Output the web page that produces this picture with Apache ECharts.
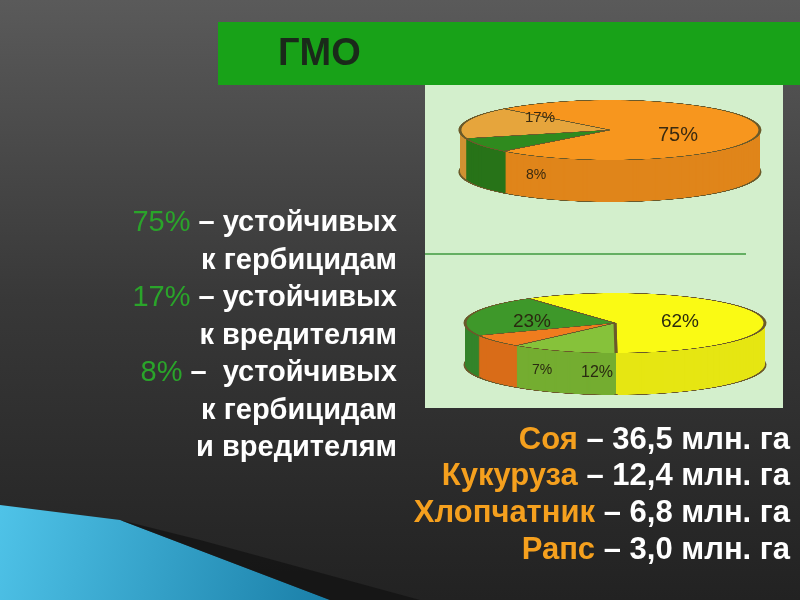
<!DOCTYPE html>
<html><head><meta charset="utf-8">
<script src="https://cdn.jsdelivr.net/npm/echarts@6/dist/echarts.min.js"></script>
<style>
html,body{margin:0;padding:0;width:800px;height:600px;overflow:hidden;background:#333}
#main,#over{position:absolute;left:0;top:0;width:800px;height:600px}
#over{z-index:5;pointer-events:none}
.pie{position:absolute;width:320px;height:560px;transform:scaleY(0.2);transform-origin:0 0;z-index:2}
</style></head><body>
<div id="main"></div>
<div id="p1" class="pie" style="left:450px;top:98px"></div>
<div id="p2" class="pie" style="left:455px;top:291px"></div>
<div id="over"></div>
<script>
var topCategories = ['устойчивые к гербицидам', 'устойчивые к гербицидам и вредителям', 'устойчивые к вредителям'];
var topValues = [75, 8, 17];
var topColors = ['#f7961e', '#2f8a1e', '#e6a53c'];
var topSide = ['#e0851a', '#277318', '#cf9233'];
var bottomCategories = ['Соя', 'Хлопчатник', 'Рапс', 'Кукуруза'];
var bottomValues = [62, 12, 7, 23];
var bottomColors = ['#fafa14', '#86c23a', '#f07c1e', '#3e982a'];
var bottomSide = ['#e6e612', '#74ad30', '#d96c18', '#33842a'];
var crops = ['Соя', 'Кукуруза', 'Хлопчатник', 'Рапс'];
var cropArea = ['36,5', '12,4', '6,8', '3,0'];
var leftLines = [['75%', ' – устойчивых'], ['', 'к гербицидам'], ['17%', ' – устойчивых'], ['', 'к вредителям'], ['8%', ' –  устойчивых'], ['', 'к гербицидам'], ['', 'и вредителям']];

function pieOption(cats, vals, cols, side, start) {
  var series = [];
  var depth = 210;
  for (var d = depth; d >= 0; d -= 5) {
    var isTop = d === 0;
    series.push({
      type: 'pie', radius: 150, center: [160, 160 + d], startAngle: start,
      silent: true, animation: false, label: {show: false}, labelLine: {show: false},
      itemStyle: {borderColor: isTop || d === depth ? '#6b5a2a' : 'transparent', borderWidth: isTop || d === depth ? 3 : 0},
      data: cats.map(function (c, i) { return {name: c, value: vals[i], itemStyle: {color: isTop ? cols[i] : side[i]}}; })
    });
  }
  return {animation: false, series: series};
}
echarts.init(document.getElementById('p1')).setOption(pieOption(topCategories, topValues, topColors, topSide, 135));
echarts.init(document.getElementById('p2')).setOption(pieOption(bottomCategories, bottomValues, bottomColors, bottomSide, 125));

var FONT = '"Liberation Sans Narrow", "Liberation Sans", Arial';
var g = [];
g.push({type: 'rect', shape: {x: 0, y: 0, width: 800, height: 600}, style: {fill: new echarts.graphic.LinearGradient(0, 0, 0, 1, [{offset: 0, color: '#5a5a5a'}, {offset: 0.5, color: '#383838'}, {offset: 1, color: '#222'}])}});
g.push({type: 'polygon', shape: {points: [[0, 505], [120, 520], [330, 600], [0, 600]]}, style: {fill: new echarts.graphic.LinearGradient(0, 0, 1, 1, [{offset: 0, color: '#4fc3e8'}, {offset: 1, color: '#1a7fa8'}])}});
g.push({type: 'polygon', shape: {points: [[60, 505], [200, 540], [420, 600], [330, 600], [120, 520]]}, style: {fill: '#111', opacity: 0.7}});
g.push({type: 'rect', shape: {x: 218, y: 22, width: 582, height: 63}, style: {fill: '#18a218'}});
g.push({type: 'text', x: 278, y: 55, style: {text: 'ГМО', fill: '#1a2a1a', font: 'bold 38px "Liberation Sans", Arial', verticalAlign: 'middle'}});
g.push({type: 'rect', shape: {x: 425, y: 85, width: 358, height: 323}, style: {fill: '#d3efcc'}});
g.push({type: 'line', shape: {x1: 425, y1: 254, x2: 746, y2: 254}, style: {stroke: '#3f9a3f', lineWidth: 1.5}});
leftLines.forEach(function (l, i) {
  g.push({type: 'text', x: 397, y: 223 + i * 37.5, style: {rich: {p: {fill: '#2aa42a', font: '29px ' + FONT}, t: {fill: '#fff', font: 'bold 29px ' + FONT}}, text: (l[0] ? '{p|' + l[0] + '}' : '') + '{t|' + l[1] + '}', align: 'right', verticalAlign: 'middle'}, z: 10});
});
crops.forEach(function (c, i) {
  g.push({type: 'text', x: 790, y: 440 + i * 36.7, style: {rich: {c: {fill: '#f5a01e', font: 'bold 31px ' + FONT}, t: {fill: '#fff', font: 'bold 31px ' + FONT}}, text: '{c|' + c + '}{t| – ' + cropArea[i] + ' млн. га}', align: 'right', verticalAlign: 'middle'}, z: 10});
});
echarts.init(document.getElementById('main')).setOption({animation: false, graphic: {elements: g}});

var o = [];
var topLabelPos = [[678, 135, 20], [536, 175, 14], [540, 118, 15]];
topValues.forEach(function (v, i) {
  o.push({type: 'text', x: topLabelPos[i][0], y: topLabelPos[i][1], style: {text: v + '%', fill: '#3a2a10', font: topLabelPos[i][2] + 'px "Liberation Sans", Arial', align: 'center', verticalAlign: 'middle'}});
});
var bottomLabelPos = [[680, 322, 19], [597, 373, 16], [542, 370, 14], [532, 322, 19]];
bottomValues.forEach(function (v, i) {
  o.push({type: 'text', x: bottomLabelPos[i][0], y: bottomLabelPos[i][1], style: {text: v + '%', fill: '#2a2a10', font: bottomLabelPos[i][2] + 'px "Liberation Sans", Arial', align: 'center', verticalAlign: 'middle'}});
});
echarts.init(document.getElementById('over')).setOption({animation: false, graphic: {elements: o}});
</script>
</body></html>
